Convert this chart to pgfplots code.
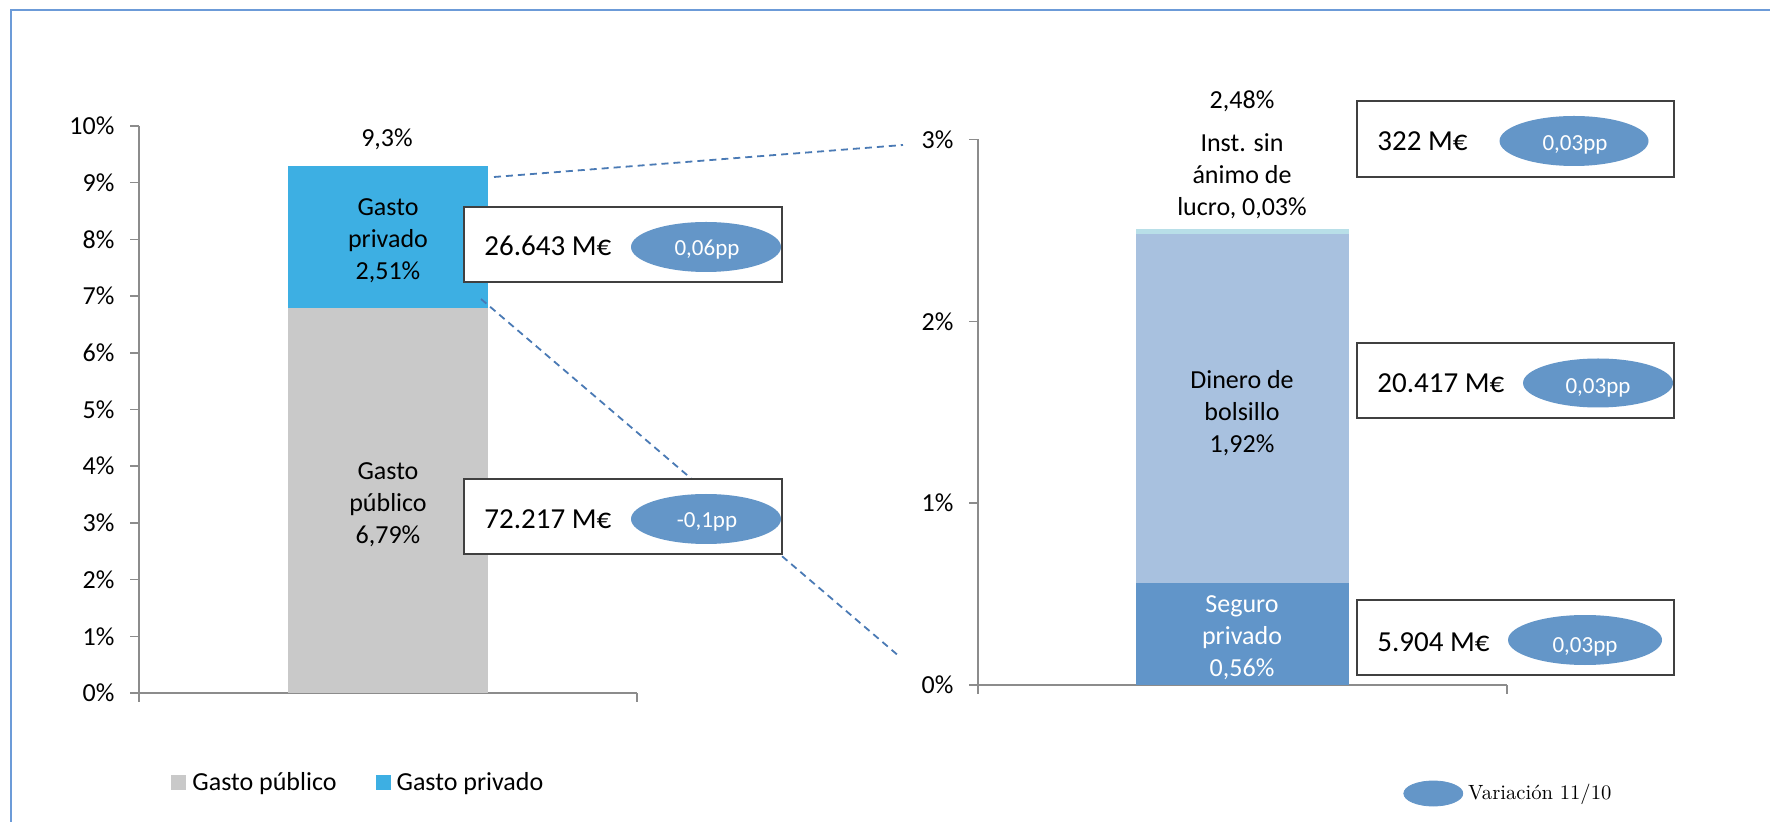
\documentclass[border=0pt]{standalone}
\usepackage{pgfplots}
\pgfplotsset{compat=1.18}
\usepackage{fontspec}
\newfontfamily\carl{Carlito}
\newcommand\fA{\carl\fontsize{13}{16}\selectfont}
\newcommand\fB{\carl\fontsize{14.5}{17}\selectfont}
\newcommand\fC{\carl\fontsize{11.5}{14}\selectfont}
\newcommand\fL{\normalfont\fontsize{10.3}{12}\selectfont}
\definecolor{gpub}{HTML}{C9C9C9}
\definecolor{gpriv}{HTML}{3DAFE3}
\definecolor{seguro}{HTML}{6195C9}
\definecolor{dinero}{HTML}{A8C1DF}
\definecolor{inst}{HTML}{B8DFE8}
\definecolor{ellc}{HTML}{6496C8}
\definecolor{dashc}{HTML}{4A7AB5}
\definecolor{framec}{HTML}{6C9BD8}
\definecolor{axisgray}{HTML}{8C8C8C}
\definecolor{boxc}{HTML}{404040}
\pgfplotsset{
  zoomaxis/.style={
    anchor=south west, scale only axis, enlargelimits=false,
    xmin=0, xmax=2, ymin=0,
    axis x line*=bottom, axis y line*=left,
    axis line style={axisgray, line width=0.75pt, -},
    xtick={0,2}, xticklabels={},
    tick align=outside, major tick length=4.3pt,
    tick style={axisgray, line width=0.75pt},
    yticklabel={\pgfmathprintnumber{\tick}\%},
    /pgf/number format/assume math mode=true,
    ticklabel style={font=\fA},
    yticklabel style={xshift=-4.5pt},
    ybar stacked, clip=false,
  }
}
\begin{document}
\begin{tikzpicture}
\useasboundingbox (0,0) rectangle (885pt,-411pt);
\fill[white] (0,0) rectangle (885pt,-411pt);
\begin{scope}[x=0.5pt,y=-0.5pt]
\draw[framec, line width=1.2pt] (11,822) -- (11,10) -- (1770,10);
\end{scope}

% ---------- left chart ----------
\begin{axis}[zoomaxis,
  at={(69.5pt,-346.5pt)}, width=249pt, height=283.5pt,
  ymax=10, ytick={0,1,...,10}, bar width=100pt,
  legend columns=2,
  legend style={draw=none, fill=none, inner sep=0pt, at={(0.0643,-0.1587)}, anchor=west,
    font=\fA, nodes={inner sep=0pt},
    /tikz/every odd column/.append style={column sep=3pt},
    /tikz/every even column/.append style={column sep=19.5pt}},
]
\addplot[fill=gpub, draw=none,
  legend image code/.code={\fill[gpub] (0pt,-3.75pt) rectangle (7.5pt,3.75pt);}]
  coordinates {(1,6.79)};
\addplot[fill=gpriv, draw=none,
  legend image code/.code={\fill[gpriv] (0pt,-3.75pt) rectangle (7.5pt,3.75pt);}]
  coordinates {(1,2.51)};
\legend{Gasto público, Gasto privado}
\end{axis}

% ---------- right chart ----------
\begin{axis}[zoomaxis,
  at={(489pt,-342.5pt)}, width=264.5pt, height=272.75pt,
  ymax=3, ytick={0,1,2,3}, bar width=106.5pt,
  legend style={draw=none, fill=none, inner sep=0pt, at={(0.8034,-0.1989)}, anchor=west,
    font=\fL, nodes={inner sep=0pt},
    /tikz/every odd column/.append style={column sep=2.5pt}},
]
\addplot[fill=seguro, draw=none, forget plot] coordinates {(1,0.56)};
\addplot[fill=dinero, draw=none, forget plot] coordinates {(1,1.92)};
\addplot[fill=inst, draw=none, forget plot] coordinates {(1,0.03)};
\addlegendimage{legend image code/.code={\fill[ellc] (14.75pt,0pt) ellipse (14.75pt and 6.25pt);}}
\addlegendentry{Variación 11/10}
\end{axis}

% ---------- annotations ----------
\begin{scope}[x=0.5pt,y=-0.5pt]
\draw[dashc, line width=0.9pt, dash pattern=on 3.5pt off 2.5pt] (494,177) -- (903,145);
\draw[dashc, line width=0.9pt, dash pattern=on 3.5pt off 2.5pt] (481,299) -- (900,657);

% bar labels
\node[font=\fA, align=center] at (388,241) {Gasto\\privado\\2,51\%};
\node[font=\fA, align=center] at (388,505) {Gasto\\público\\6,79\%};
\node[font=\fA, anchor=base] at (387,147) {9,3\%};
\node[font=\fA, align=center, text=white] at (1242,638) {Seguro\\privado\\0,56\%};
\node[font=\fA, align=center] at (1242,413) {Dinero de\\bolsillo\\1,92\%};
\node[font=\fA, align=center] at (1242,176) {Inst. sin\\ánimo de\\lucro, 0,03\%};
\node[font=\fA, anchor=base] at (1242,109) {2,48\%};

% boxes
\draw[boxc, fill=white, line width=0.7pt] (464,207) rectangle (782,282);
\draw[boxc, fill=white, line width=0.7pt] (464,479) rectangle (782,554);
\draw[boxc, fill=white, line width=0.7pt] (1357,101) rectangle (1674,177);
\draw[boxc, fill=white, line width=0.7pt] (1357,343) rectangle (1674,418);
\draw[boxc, fill=white, line width=0.7pt] (1357,600) rectangle (1674,675);

\fill[ellc] (706,247) ellipse (37.5pt and 12.5pt);
\fill[ellc] (706,519) ellipse (37.5pt and 12.5pt);
\fill[ellc] (1574,141) ellipse (37.25pt and 12.5pt);
\fill[ellc] (1598,383) ellipse (37.5pt and 12.25pt);
\fill[ellc] (1585,640) ellipse (38.5pt and 12.5pt);

\node[font=\fB, anchor=base west, inner sep=0pt] at (484,256) {26.643 M€};
\node[font=\fB, anchor=base west, inner sep=0pt] at (484,529) {72.217 M€};
\node[font=\fB, anchor=base west, inner sep=0pt] at (1377,151) {322 M€};
\node[font=\fB, anchor=base west, inner sep=0pt] at (1377,393) {20.417 M€};
\node[font=\fB, anchor=base west, inner sep=0pt] at (1377,651) {5.904 M€};

\node[font=\fC, text=white, anchor=base] at (707,256) {0,06pp};
\node[font=\fC, text=white, anchor=base] at (707,528) {-0,1pp};
\node[font=\fC, text=white, anchor=base] at (1575,151) {0,03pp};
\node[font=\fC, text=white, anchor=base] at (1598,394) {0,03pp};
\node[font=\fC, text=white, anchor=base] at (1585,652) {0,03pp};
\end{scope}
\end{tikzpicture}
\end{document}
